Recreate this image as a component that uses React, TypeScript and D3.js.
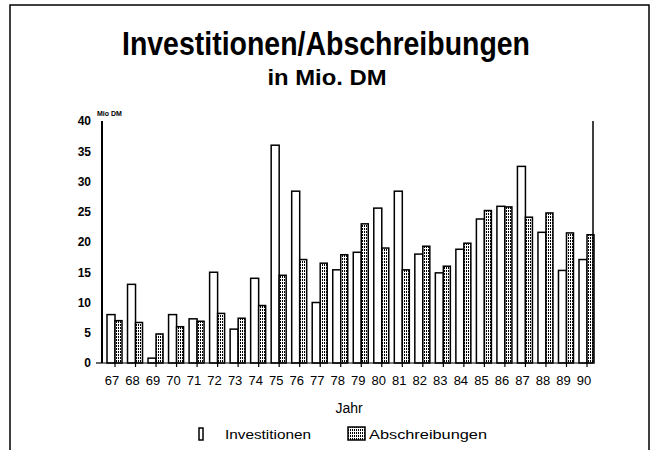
import React from 'react';
import * as d3 from 'd3';

// Jahr 1967 .. 1990, Werte in Mio. DM
const years = ['67', '68', '69', '70', '71', '72', '73', '74', '75', '76', '77', '78',
    '79', '80', '81', '82', '83', '84', '85', '86', '87', '88', '89', '90'];
const investitionen = [8, 13, 0.8, 8, 7.3, 15, 5.6, 14, 36, 28.4, 10, 15.4,
    18.3, 25.6, 28.4, 18, 14.9, 18.8, 23.8, 25.9, 32.5, 21.6, 15.3, 17.1];
const abschreibungen = [7, 6.7, 4.8, 6, 6.9, 8.2, 7.4, 9.5, 14.5, 17.1, 16.5, 17.9,
    23, 19, 15.4, 19.3, 16, 19.8, 25.2, 25.8, 24.1, 24.8, 21.5, 21.2];
const yTicks = [0, 5, 10, 15, 20, 25, 30, 35, 40];

const font = '"Liberation Sans", Arial, sans-serif';
const narrow = '"Liberation Sans Narrow", "Liberation Sans", Arial, sans-serif';

export default function App() {
    const width = 655, height = 450;
    const plot = {left: 102, right: 593, top: 121, bottom: 363};

    // scales
    const x = d3.scalePoint<string>()
        .domain(years)
        .range([115, 587]);
    const y = d3.scaleLinear()
        .domain([0, 40])
        .range([plot.bottom, plot.top]);

    const invW = 8, absW = 7;

    return (
        <svg width={width} height={height}
            style={{position: 'absolute', left: 0, top: 0, background: '#fff'}}>
            <defs>
                <pattern id="hatch" width="2" height="3" patternUnits="userSpaceOnUse">
                    <rect width="2" height="3" fill="#fff"/>
                    <rect x="0" y="0" width="1" height="2" fill="#000"/>
                </pattern>
            </defs>

            {/* frame */}
            <rect x={10} y={5} width={639} height={470} fill="none" stroke="#000" strokeWidth={1.5}/>

            <text x={326} y={55} textAnchor="middle" fontFamily={font} fontWeight="bold"
                fontSize={34} textLength={408} lengthAdjust="spacingAndGlyphs">
                Investitionen/Abschreibungen
            </text>
            <text x={327} y={85} textAnchor="middle" fontFamily={font} fontWeight="bold"
                fontSize={22} textLength={119} lengthAdjust="spacingAndGlyphs">
                in Mio. DM
            </text>

            <text x={97} y={116} fontFamily={font} fontSize={7} fontWeight="bold">Mio DM</text>

            {/* y axis labels */}
            {yTicks.map(t => (
                <text key={t} x={91} y={y(t)} dy="0.36em" textAnchor="end"
                    fontFamily={narrow} fontSize={12} fontWeight="bold">{t}</text>
            ))}
            <line x1={96} x2={plot.left} y1={y(0)} y2={y(0)} stroke="#000" strokeWidth={1.2}/>

            {/* bars */}
            {years.map((yr, i) => {
                const cx = x(yr) as number;
                return (
                    <g key={yr}>
                        <rect x={cx - invW} y={y(investitionen[i])}
                            width={invW} height={y(0) - y(investitionen[i])}
                            fill="#fff" stroke="#000" strokeWidth={1.5}/>
                        <rect x={cx} y={y(abschreibungen[i])}
                            width={absW} height={y(0) - y(abschreibungen[i])}
                            fill="url(#hatch)" stroke="#000" strokeWidth={1.5}/>
                    </g>
                );
            })}

            {/* axes */}
            <line x1={plot.left} x2={plot.left} y1={plot.top} y2={plot.bottom} stroke="#000" strokeWidth={2}/>
            <line x1={plot.right} x2={plot.right} y1={plot.top} y2={plot.bottom} stroke="#000" strokeWidth={1.5}/>
            <line x1={plot.left} x2={plot.right} y1={plot.bottom} y2={plot.bottom} stroke="#000" strokeWidth={1}/>
            {years.map(yr => (
                <line key={'t' + yr} x1={x(yr)} x2={x(yr)} y1={plot.bottom} y2={plot.bottom + 4}
                    stroke="#000" strokeWidth={1.2}/>
            ))}
            {years.map(yr => (
                <text key={'l' + yr} x={(x(yr) as number) - 3} y={385} textAnchor="middle"
                    fontFamily={narrow} fontSize={13}>{yr}</text>
            ))}

            <text x={349} y={413} textAnchor="middle" fontFamily={font} fontSize={14}>Jahr</text>

            {/* legend */}
            <rect x={199} y={428} width={4} height={12} fill="#fff" stroke="#000" strokeWidth={1.5}/>
            <text x={225} y={439} fontFamily={font} fontSize={12}
                textLength={86} lengthAdjust="spacingAndGlyphs">Investitionen</text>
            <rect x={348} y={427} width={17} height={13} fill="url(#hatch)" stroke="#000" strokeWidth={1.5}/>
            <text x={369} y={439} fontFamily={font} fontSize={12}
                textLength={118} lengthAdjust="spacingAndGlyphs">Abschreibungen</text>
        </svg>
    );
}
